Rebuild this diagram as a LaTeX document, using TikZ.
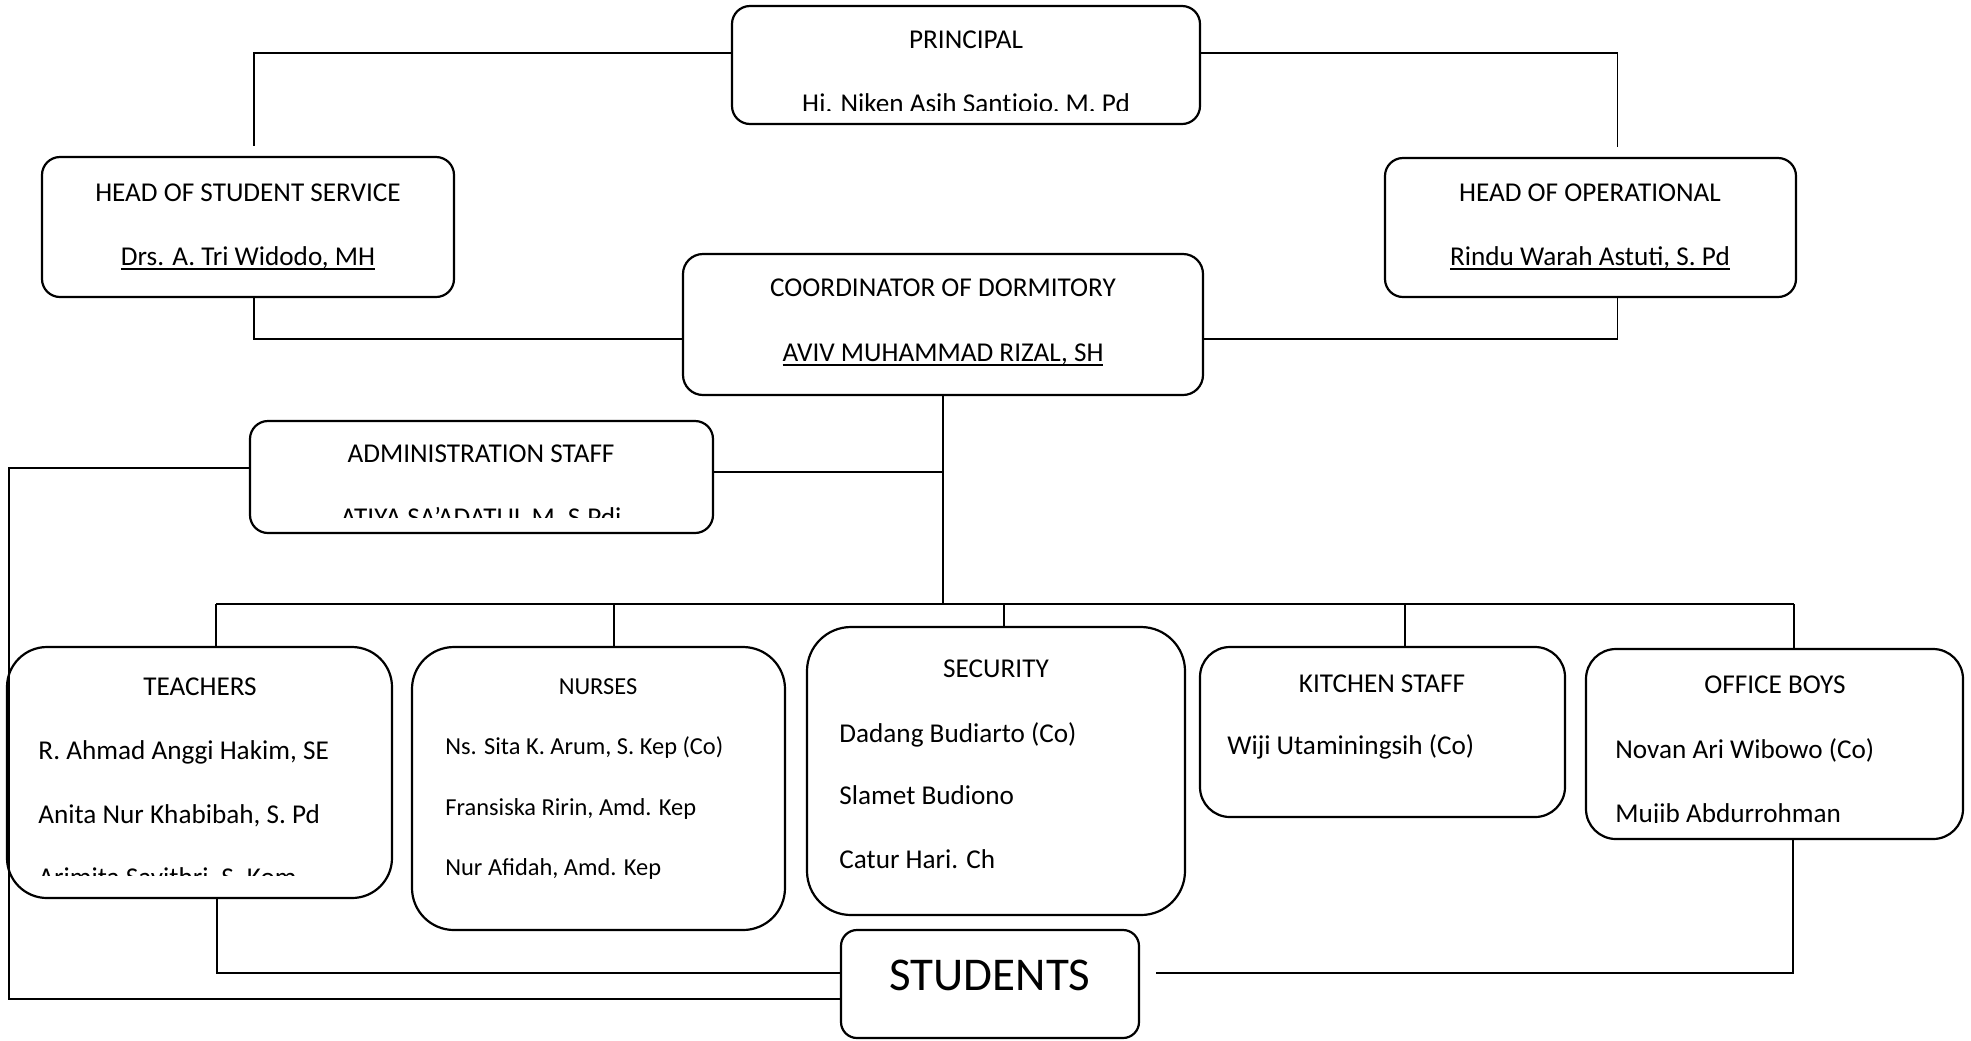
\documentclass[tikz,border=0pt]{standalone}
\usepackage{fontspec}
\setmainfont{Carlito}
\usetikzlibrary{fit}
\newcommand{\nameline}[1]{\setbox0\hbox{#1}\rlap{\rule[-2.4pt]{\wd0}{0.8pt}}\box0}
\tikzset{
  box/.style={draw, line width=1.1pt, inner sep=0pt},
  link/.style={line width=0.9pt},
  txt/.style={inner sep=0pt, anchor=base, font=\fontsize{13.6}{16}\selectfont},
  lefttxt/.style={txt, anchor=base west},
  smalltxt/.style={lefttxt, font=\fontsize{12.2}{14}\selectfont},
}
\begin{document}
\begin{tikzpicture}[x=0.5pt,y=-0.5pt]
	%%%%% START %%%%%
	\clip (0,0) rectangle (1971,1040);
	\fill[white] (0,0) rectangle (1971,1040);
	
	% boxes
	\node[box, rounded corners=9pt, fit={(732,6) (1200,124)}] (principal) {};
	\node[box, rounded corners=9pt, fit={(42,157) (454,297)}] (hoss) {};
	\node[box, rounded corners=9pt, fit={(1385,158) (1796,297)}] (hoo) {};
	\node[box, rounded corners=10pt, fit={(683,254) (1203,395)}] (coord) {};
	\node[box, rounded corners=9pt, fit={(250,421) (713,533)}] (admin) {};
	\node[box, rounded corners=20pt, fit={(7,647) (392,898)}] (teachers) {};
	\node[box, rounded corners=21pt, fit={(412,647) (785,930)}] (nurses) {};
	\node[box, rounded corners=22pt, fit={(807,627) (1185,915)}] (security) {};
	\node[box, rounded corners=15pt, fit={(1200,647) (1565,817)}] (kitchen) {};
	\node[box, rounded corners=15pt, fit={(1586,649) (1963,839)}] (boys) {};
	\node[box, rounded corners=8pt, fit={(841,930) (1139,1038)}] (students) {};
	
	% texts
	\node[txt] (principalT) at (966,48) {PRINCIPAL};
	\begin{scope}
		\clip (732,60) rectangle (1200,110);
		\node[txt] (principalN) at (966,112) {Hj. Niken Asih Santjojo, M. Pd};
	\end{scope}
	
	\node[txt] (hossT) at (248,201) {HEAD OF STUDENT SERVICE};
	\node[txt] (hossN) at (248,265) {\nameline{Drs. A. Tri Widodo, MH}};
	
	\node[txt] (hooT) at (1590,201) {HEAD OF OPERATIONAL};
	\node[txt] (hooN) at (1590,265) {\nameline{Rindu Warah Astuti, S. Pd}};
	
	\node[txt] (coordT) at (943,296) {COORDINATOR OF DORMITORY};
	\node[txt] (coordN) at (943,361) {\nameline{AVIV MUHAMMAD RIZAL, SH}};
	
	\node[txt] (adminT) at (481,462) {ADMINISTRATION STAFF};
	\begin{scope}
		\clip (250,480) rectangle (713,517);
		\node[txt] (adminN) at (481,526) {ATIYA SA’ADATUL M, S.Pdi};
	\end{scope}
	
	\node[txt] (teachersT) at (200,695) {TEACHERS};
	\node[lefttxt] (teacherA) at (38,759) {R. Ahmad Anggi Hakim, SE};
	\node[lefttxt] (teacherB) at (38,823) {Anita Nur Khabibah, S. Pd};
	\begin{scope}
		\clip (7,840) rectangle (392,875);
		\node[lefttxt] (teacherC) at (38,886) {Arimita Savithri, S. Kom};
	\end{scope}
	
	\node[txt, font=\fontsize{12.2}{14}\selectfont] (nursesT) at (598,694) {NURSES};
	\node[smalltxt] (nurseA) at (445,754) {Ns. Sita K. Arum, S. Kep (Co)};
	\node[smalltxt] (nurseB) at (445,815) {Fransiska Ririn, Amd. Kep};
	\node[smalltxt] (nurseC) at (445,875) {Nur Afidah, Amd. Kep};
	
	\node[txt] (securityT) at (996,677) {SECURITY};
	\node[lefttxt] (guardA) at (839,742) {Dadang Budiarto (Co)};
	\node[lefttxt] (guardB) at (839,804) {Slamet Budiono};
	\node[lefttxt] (guardC) at (839,868) {Catur Hari. Ch};
	
	\node[txt] (kitchenT) at (1382,692) {KITCHEN STAFF};
	\node[lefttxt] (cookA) at (1227,754) {Wiji Utaminingsih (Co)};
	
	\node[txt] (boysT) at (1775,693) {OFFICE BOYS};
	\node[lefttxt] (boyA) at (1615,758) {Novan Ari Wibowo (Co)};
	\begin{scope}
		\clip (1586,780) rectangle (1963,822);
		\node[lefttxt] (boyB) at (1615,822) {Mujib Abdurrohman};
	\end{scope}
	
	\node[txt, font=\fontsize{23.5}{28}\selectfont] (studentsT) at (990,990) {STUDENTS};
	
	% connectors
	\draw[link] ([yshift=6pt]principal.west) -| ([xshift=3pt,yshift=5pt]hoss.north);
	\draw[link] ([yshift=6pt]principal.east) -| ([xshift=13.5pt,yshift=5pt]hoo.north);
	\draw[link] ([yshift=-7.25pt]coord.west) -| ([xshift=3pt]hoss.south);
	\draw[link] ([yshift=-7.25pt]coord.east) -| ([xshift=13.5pt]hoo.south);
	
	\coordinate (busL) at (216,604);
	\coordinate (busR) at (1794,604);
	\draw[link] (busL) -- (busR);
	\draw[link] (coord.south) -- (coord.south |- busL);
	\foreach \x/\n in {216/teachers, 614/nurses, 1004/security, 1405/kitchen, 1794/boys}
		\draw[link] (\x,604) -- (\x,604 |- \n.north);
	
	\draw[link] ([yshift=2.5pt]admin.east) -- ([yshift=2.5pt]admin.east -| coord.south);
	\coordinate (wall) at (9,999);
	\draw[link] ([yshift=4.5pt]admin.west) -| (wall) -- (wall -| students.west);
	
	\draw[link] ([xshift=8.75pt]teachers.south) |- ([yshift=5.5pt]students.west);
	\draw[link] ([xshift=9.25pt]boys.south) |- ([xshift=8pt,yshift=5.5pt]students.east);
	
	%%%%% END %%%%%
\end{tikzpicture}
\end{document}
